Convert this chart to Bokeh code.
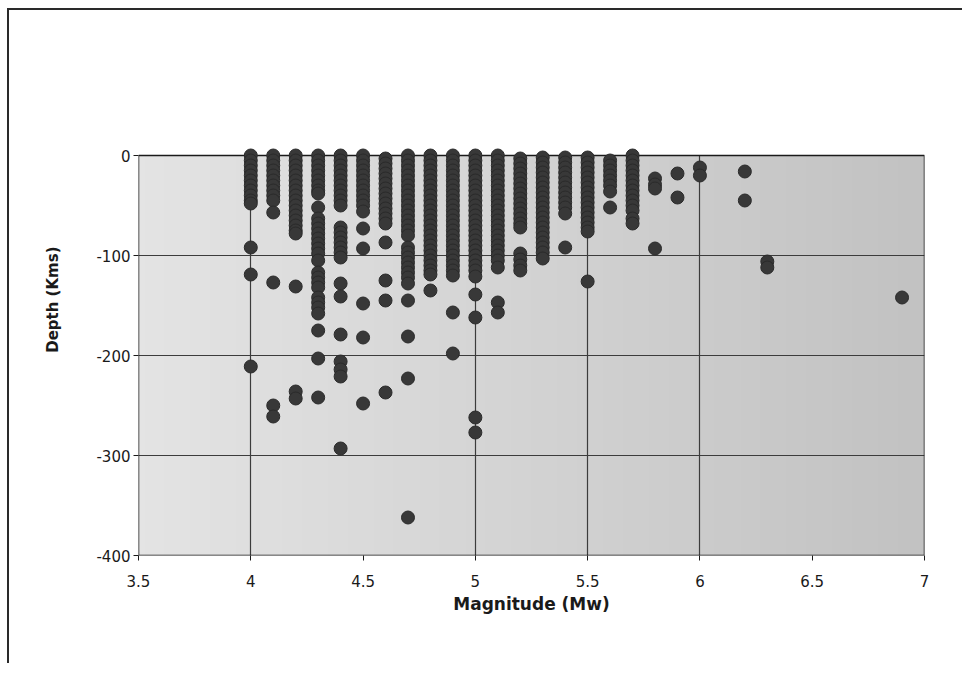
import numpy as np
from bokeh.plotting import figure
from bokeh.models import Range1d, FixedTicker, Title
from bokeh.embed import file_html
from bokeh.resources import INLINE

# ---------------- data (magnitude -> depths in km) -------------
m40 = [0, -5, -10, -15, -20, -25, -30, -35, -40, -45, -48, -92, -119, -211]
m41 = [0, -5, -10, -15, -20, -25, -30, -35, -40, -45, -57, -127, -250, -261]
m42 = [0, -5, -10, -15, -20, -25, -30, -35, -40, -45, -50, -55, -60, -65, -70, -75, -78,
       -131, -236, -243]
m43 = [0, -5, -10, -15, -20, -25, -30, -35, -38, -52, -63, -68, -73, -78, -83, -88, -93, -98,
       -105, -117, -122, -127, -132, -142, -147, -152, -158, -175, -203, -242]
m44 = [0, -5, -10, -15, -20, -25, -30, -35, -40, -45, -50, -72, -77, -82, -87, -92, -97, -102,
       -128, -141, -179, -206, -214, -221, -293]
m45 = [0, -5, -10, -15, -20, -25, -30, -35, -40, -45, -50, -56, -73, -93, -148, -182, -248]
m46 = [-3, -8, -13, -18, -23, -28, -33, -38, -43, -48, -53, -58, -63, -68, -87, -125, -145, -237]
m47 = [0, -5, -10, -15, -20, -25, -30, -35, -40, -45, -50, -55, -60, -65, -70, -75, -80,
       -92, -97, -102, -107, -112, -117, -122, -128, -145, -181, -223, -362]
m48 = [0, -5, -10, -15, -20, -25, -30, -35, -40, -45, -50, -55, -60, -65, -70, -75, -80, -85,
       -90, -95, -100, -105, -110, -115, -119, -135]
m49 = [0, -5, -10, -15, -20, -25, -30, -35, -40, -45, -50, -55, -60, -65, -70, -75, -80, -85,
       -90, -95, -100, -105, -110, -115, -120, -157, -198]
m50 = [0, -5, -10, -15, -20, -25, -30, -35, -40, -45, -50, -55, -60, -65, -70, -75, -80, -85,
       -90, -95, -100, -105, -110, -115, -121, -139, -162, -262, -277]
m51 = [0, -5, -10, -15, -20, -25, -30, -35, -40, -45, -50, -55, -60, -65, -70, -75, -80, -85,
       -90, -95, -100, -105, -112, -147, -157]
m52 = [-3, -8, -13, -18, -23, -28, -33, -38, -43, -48, -53, -58, -63, -68, -72, -98, -104,
       -110, -115]
m53 = [-2, -7, -12, -17, -22, -27, -32, -37, -42, -47, -52, -57, -62, -67, -72, -77, -82,
       -87, -92, -97, -103]
m54 = [-2, -7, -12, -17, -22, -27, -32, -37, -42, -47, -52, -58, -92]
m55 = [-2, -7, -12, -17, -22, -27, -32, -37, -42, -47, -52, -57, -62, -67, -72, -76, -126]
m56 = [-5, -10, -15, -20, -25, -30, -36, -52]
m57 = [0, -5, -10, -15, -20, -25, -30, -35, -40, -45, -50, -55, -63, -68]
m58 = [-23, -29, -33, -93]
m59 = [-18, -42]
m60 = [-12, -20]
m62 = [-16, -45]
m63 = [-106, -112]
m69 = [-142]

magnitudes = [4.0, 4.1, 4.2, 4.3, 4.4, 4.5, 4.6, 4.7, 4.8, 4.9, 5.0, 5.1, 5.2, 5.3, 5.4,
              5.5, 5.6, 5.7, 5.8, 5.9, 6.0, 6.2, 6.3, 6.9]
depth_lists = [m40, m41, m42, m43, m44, m45, m46, m47, m48, m49, m50, m51, m52, m53, m54,
               m55, m56, m57, m58, m59, m60, m62, m63, m69]

x_ticks = [3.5, 4, 4.5, 5, 5.5, 6, 6.5, 7]
x_tick_labels = ["3.5", "4", "4.5", "5", "5.5", "6", "6.5", "7"]
y_ticks = [-400, -300, -200, -100, 0]
y_tick_labels = ["-400", "-300", "-200", "-100", "0"]
x_grid_lines = [4, 5, 5.5, 6]
y_grid_lines = [-300, -200, -100]

xs, ys = [], []
for m, dl in zip(magnitudes, depth_lists):
    for d in dl:
        xs.append(m)
        ys.append(d)

# ---------------- figure -------------
p = figure(width=955, height=655, output_backend="svg", toolbar_location=None,
           x_range=Range1d(3.5, 7), y_range=Range1d(-400, 8),
           min_border_left=129, min_border_right=40, min_border_top=137,
           min_border_bottom=110)
p.styles = {"border-top": "2px solid #2a2a2a", "border-left": "2px solid #2a2a2a",
            "margin-top": "8px", "margin-left": "7px"}
p.outline_line_color = None
p.background_fill_color = "white"
p.border_fill_color = "white"

# grey plot-area background (horizontal gradient)
n = 120
t = np.linspace(0, 1, n)
lv = (228 - 34 * t).astype(np.uint32)
img = np.empty((1, n), dtype=np.uint32)
view = img.view(dtype=np.uint8).reshape((1, n, 4))
view[0, :, 0] = lv
view[0, :, 1] = lv
view[0, :, 2] = lv
view[0, :, 3] = 255
p.image_rgba(image=[img], x=3.5, y=-400, dw=3.5, dh=400, level="image")

# plot-area border
p.quad(left=[3.5], right=[7], bottom=[-400], top=[0], fill_color=None,
       line_color="#1a1a1a", line_width=1.5)

# grids
p.xgrid.ticker = FixedTicker(ticks=x_grid_lines)
p.ygrid.ticker = FixedTicker(ticks=y_grid_lines)
for g in (p.xgrid, p.ygrid):
    g.grid_line_color = "#3c3c3c"
    g.grid_line_width = 1.2
    g.grid_line_alpha = 1.0
p.xgrid.cross_bounds = (-400, 0)

# points
p.scatter(xs, ys, size=13, marker="circle", fill_color="#383838",
          line_color="#2a2a2a", line_width=1)

# axes
p.xaxis.ticker = FixedTicker(ticks=x_ticks)
p.yaxis.ticker = FixedTicker(ticks=y_ticks)
p.xaxis.major_label_overrides = dict(zip(x_ticks, x_tick_labels))
p.yaxis.major_label_overrides = dict(zip(y_ticks, y_tick_labels))
for ax in (p.xaxis[0], p.yaxis[0]):
    ax.axis_line_color = None
    ax.major_tick_line_color = "#1a1a1a"
    ax.major_tick_out = 5
    ax.major_tick_in = 0
    ax.minor_tick_line_color = None
    ax.major_label_text_font = "DejaVu Sans"
    ax.major_label_text_font_size = "15px"
    ax.major_label_text_color = "#1a1a1a"
    ax.axis_label_text_font = "DejaVu Sans"
    ax.axis_label_text_font_size = "17px"
    ax.axis_label_text_font_style = "bold"
    ax.axis_label_text_color = "#1a1a1a"

p.xaxis.axis_label = "Magnitude (Mw)"
p.xaxis.major_label_standoff = 14
p.xaxis.axis_label_standoff = 4
p.yaxis.major_label_standoff = 3

p.add_layout(Title(text="Depth (Kms)", align="right", offset=99, standoff=64,
                   text_font="DejaVu Sans", text_font_size="15px",
                   text_font_style="bold", text_color="#1a1a1a"), "left")

open("out.html", "w").write(file_html(p, INLINE))
